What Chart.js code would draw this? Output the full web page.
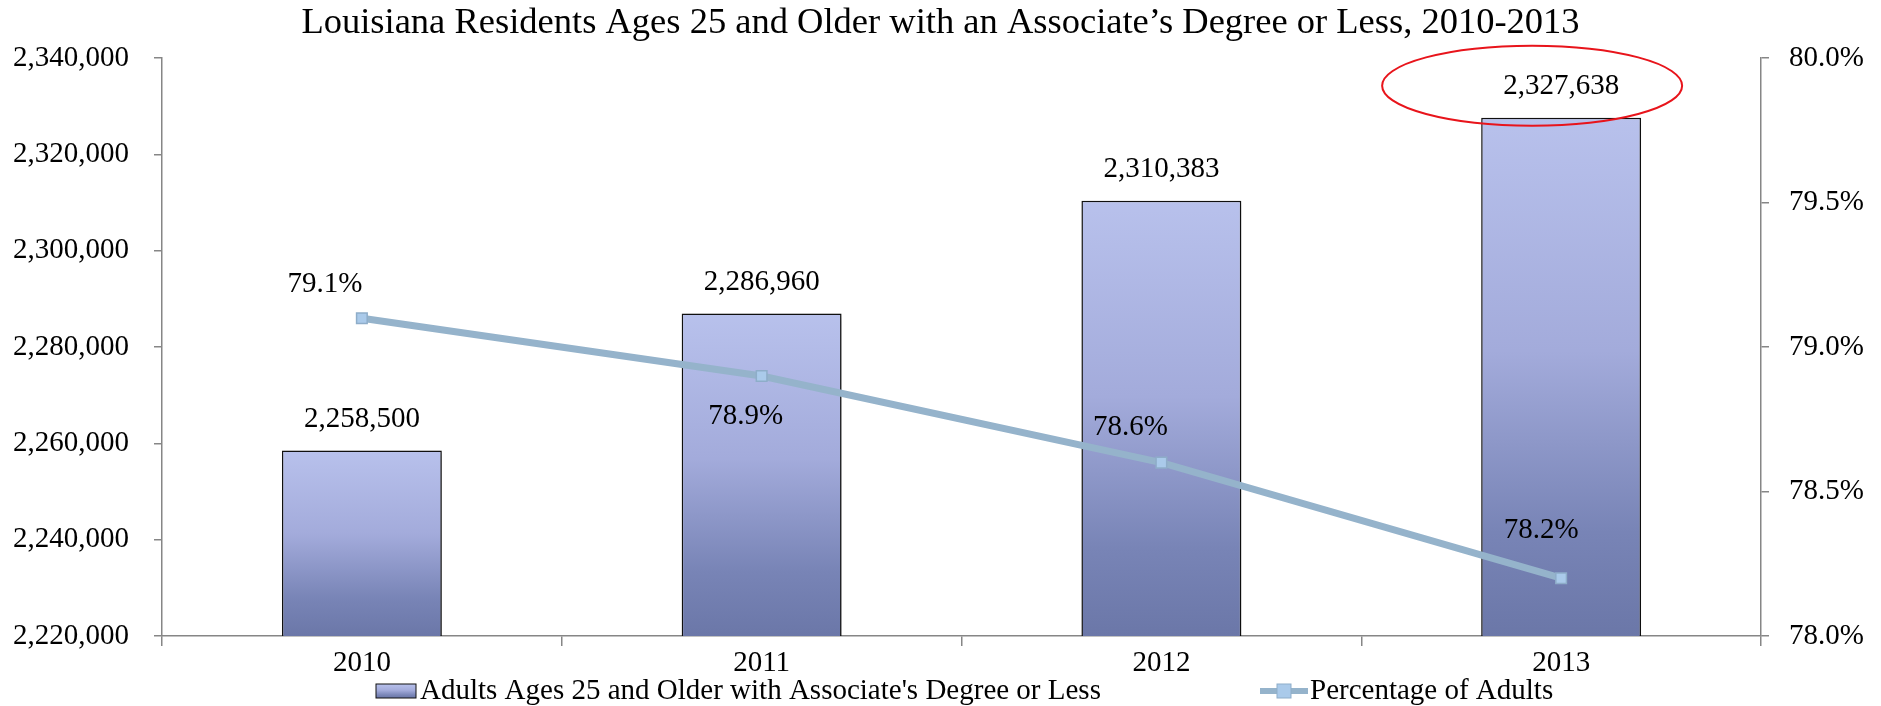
<!DOCTYPE html>
<html>
<head>
<meta charset="utf-8">
<script src="https://cdn.jsdelivr.net/npm/chart.js@4.4.1/dist/chart.umd.min.js"></script>
<style>
  html, body { margin: 0; padding: 0; background: #fff; }
</style>
</head>
<body>
<canvas id="degreeChart" width="1881" height="706"></canvas>
<script>
// ========== DATA ==========
const years = ['2010', '2011', '2012', '2013'];
const adultCounts = [2258500, 2286960, 2310383, 2327638];
const adultPercents = [79.1, 78.9, 78.6, 78.2];
const countAxisTicks = [2220000, 2340000, 20000];   // min, max, step
const percentAxisTicks = [78.0, 80.0, 0.5];          // min, max, step

const chartTitle = 'Louisiana Residents Ages 25 and Older with an Associate\u2019s Degree or Less, 2010-2013';
const barLabel = "Adults Ages 25 and Older with Associate's Degree or Less";
const lineLabel = 'Percentage of Adults';

const FONT = '"Liberation Serif", "Times New Roman", serif';
const AXIS_GRAY = '#868686';
const LINE_COLOR = '#95b3cb';

/**
 * Degradado vertical de cada barra (claro arriba, oscuro abajo)
 */
function barGradient(ctx, top, bottom) {
    const g = ctx.createLinearGradient(0, top, 0, bottom);
    g.addColorStop(0, '#b8c1ec');
    g.addColorStop(0.45, '#a3abdb');
    g.addColorStop(0.8, '#7884b6');
    g.addColorStop(1, '#6b77a8');
    return g;
}

/**
 * Etiquetas, elipse roja y leyenda
 */
const extrasPlugin = {
    id: 'extras',
    beforeDatasetDraw(chart, args) {
        if (args.meta.type === 'bar') {
            const ctx = chart.ctx;
            ctx.save();
            ctx.shadowColor = 'rgba(0, 0, 0, 0.25)';
            ctx.shadowBlur = 6;
            ctx.shadowOffsetX = 3;
            ctx.shadowOffsetY = 2;
        }
    },
    afterDatasetDraw(chart, args) {
        if (args.meta.type === 'bar') chart.ctx.restore();
    },
    afterDatasetsDraw(chart) {
        const ctx = chart.ctx;
        ctx.save();
        ctx.font = '29px ' + FONT;
        ctx.fillStyle = '#000';
        ctx.textAlign = 'center';
        ctx.textBaseline = 'middle';

        // Valores de las barras
        const bars = chart.getDatasetMeta(0).data;
        bars.forEach((bar, i) => {
            ctx.fillText(adultCounts[i].toLocaleString('en-US'), bar.x, bar.y - 31);
        });

        // Valores de la línea
        const offsets = [[-37, -34], [-16, 40], [-31, -35], [-20, -48]];
        chart.getDatasetMeta(1).data.forEach((pt, i) => {
            ctx.fillText(adultPercents[i].toFixed(1) + '%', pt.x + offsets[i][0], pt.y + offsets[i][1]);
        });

        // Elipse roja sobre 2013
        const last = bars[bars.length - 1];
        ctx.beginPath();
        ctx.ellipse(last.x - 29, last.y - 32, 150, 40, 0, 0, Math.PI * 2);
        ctx.strokeStyle = '#e8141b';
        ctx.lineWidth = 2;
        ctx.stroke();
        ctx.restore();
    },
    afterDraw(chart) {
        const ctx = chart.ctx;
        const y = 691;
        ctx.save();
        ctx.font = '29px ' + FONT;
        ctx.fillStyle = '#000';
        ctx.textBaseline = 'middle';
        ctx.textAlign = 'left';

        // Leyenda barras
        ctx.fillStyle = barGradient(ctx, y - 7, y + 7);
        ctx.fillRect(376, y - 7, 40, 14);
        ctx.strokeStyle = '#111';
        ctx.lineWidth = 1;
        ctx.strokeRect(376, y - 7, 40, 14);
        ctx.fillStyle = '#000';
        ctx.fillText(barLabel, 420, y);

        // Leyenda línea
        ctx.strokeStyle = LINE_COLOR;
        ctx.lineWidth = 6;
        ctx.beginPath();
        ctx.moveTo(1260, y);
        ctx.lineTo(1308, y);
        ctx.stroke();
        ctx.fillStyle = '#aacaea';
        ctx.fillRect(1277, y - 7, 14, 14);
        ctx.strokeStyle = '#8eadc9';
        ctx.lineWidth = 1;
        ctx.strokeRect(1277, y - 7, 14, 14);
        ctx.fillStyle = '#000';
        ctx.fillText(lineLabel, 1310, y);
        ctx.restore();
    }
};

const ctx = document.getElementById('degreeChart');

new Chart(ctx, {
    data: {
        labels: years,
        datasets: [
            {
                type: 'bar',
                label: barLabel,
                data: adultCounts,
                yAxisID: 'y',
                order: 2,
                backgroundColor: (context) => {
                    const chart = context.chart;
                    const area = chart.chartArea;
                    if (!area || context.type !== 'data') return '#a3abdb';
                    const top = chart.scales.y.getPixelForValue(context.raw);
                    return barGradient(chart.ctx, top, area.bottom);
                },
                borderColor: '#111',
                borderWidth: 1.5,
                categoryPercentage: 1,
                barPercentage: 0.4
            },
            {
                type: 'line',
                label: lineLabel,
                data: adultPercents,
                yAxisID: 'y1',
                order: 1,
                borderColor: LINE_COLOR,
                borderWidth: 7,
                tension: 0,
                pointStyle: 'rect',
                pointRadius: 7.5,
                pointBackgroundColor: '#aacaea',
                pointBorderColor: '#8eadc9',
                pointBorderWidth: 1.5
            }
        ]
    },
    options: {
        responsive: false,
        animation: false,
        devicePixelRatio: 1,
        layout: { padding: 0 },
        plugins: {
            legend: { display: false },
            tooltip: { enabled: false },
            title: {
                display: true,
                text: chartTitle,
                color: '#000',
                font: { family: FONT, size: 36.5, weight: 'normal', lineHeight: 1.1 },
                padding: { top: 3, bottom: 15 }
            }
        },
        scales: {
            x: {
                offset: true,
                grid: { offset: true, drawOnChartArea: false, drawTicks: true, tickLength: 10, color: AXIS_GRAY, lineWidth: 1.5 },
                border: { color: AXIS_GRAY, width: 1.5 },
                ticks: { color: '#000', font: { family: FONT, size: 29 }, padding: 0, maxRotation: 0 },
                afterFit: (scale) => { scale.height = 70; }
            },
            y: {
                position: 'left',
                min: countAxisTicks[0],
                max: countAxisTicks[1],
                grid: { drawOnChartArea: false, drawTicks: true, tickLength: 8, color: AXIS_GRAY, lineWidth: 1.5 },
                border: { color: AXIS_GRAY, width: 1.5 },
                ticks: {
                    stepSize: countAxisTicks[2],
                    color: '#000',
                    font: { family: FONT, size: 29 },
                    padding: 25,
                    callback: (v) => v.toLocaleString('en-US')
                },
                afterFit: (scale) => { scale.width = 162; }
            },
            y1: {
                position: 'right',
                min: percentAxisTicks[0],
                max: percentAxisTicks[1],
                grid: { drawOnChartArea: false, drawTicks: true, tickLength: 8, color: AXIS_GRAY, lineWidth: 1.5 },
                border: { color: AXIS_GRAY, width: 1.5 },
                ticks: {
                    stepSize: percentAxisTicks[2],
                    color: '#000',
                    font: { family: FONT, size: 29 },
                    padding: 20,
                    callback: (v) => v.toFixed(1) + '%'
                },
                afterFit: (scale) => { scale.width = 120; }
            }
        }
    },
    plugins: [extrasPlugin]
});
</script>
</body>
</html>
